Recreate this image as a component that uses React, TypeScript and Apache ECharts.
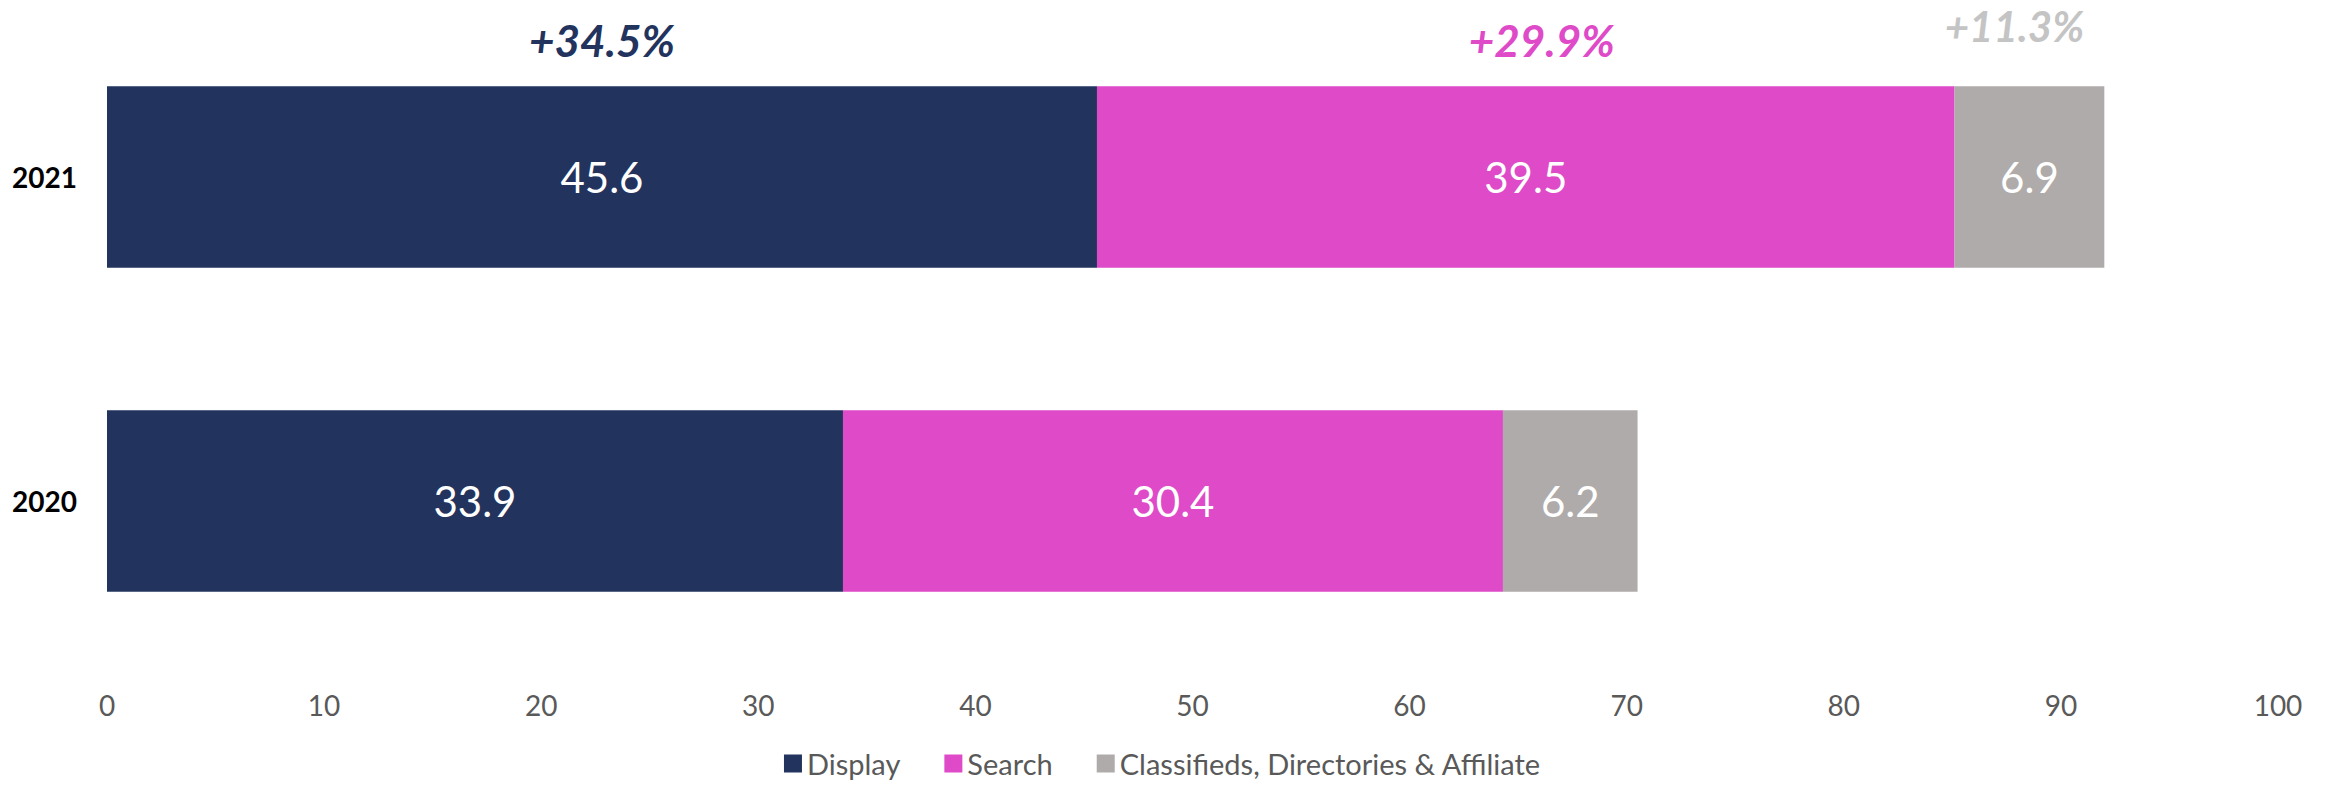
import React, { useEffect, useRef } from 'react';
import * as echarts from 'echarts';

const years = ['2020', '2021'];
const seriesNames = ['Display', 'Search', 'Classifieds, Directories & Affiliate'];
const display = [33.9, 45.6];
const search = [30.4, 39.5];
const classifieds = [6.2, 6.9];
const growthLabels = ['+34.5%', '+29.9%', '+11.3%'];
const barColors = ['#22335E', '#DE4AC7', '#AFABAA'];
const growthColors = ['#22335E', '#DE4AC7', '#C4C4C4'];
// annotation placement relative to the segment centre of the 2021 bar (px)
const growthLift = [137, 137, 151];
const growthShift = [0, 16, -15];

const FONT = 'Lato, Carlito, Calibri, "Open Sans", sans-serif';

export default function App() {
  const ref = useRef<HTMLDivElement>(null);
  useEffect(() => {
    if (!ref.current) return;
    const chart = echarts.init(ref.current, null, { renderer: 'svg' });
    const values = [display, search, classifieds];
    const option: any = {
      animation: false,
      backgroundColor: '#ffffff',
      textStyle: { fontFamily: FONT },
      grid: { left: 107, right: 47, top: 15, bottom: 122, containLabel: false },
      legend: {
        bottom: 2,
        left: 'center',
        itemWidth: 18,
        itemHeight: 18,
        itemGap: 44,
        icon: 'rect',
        textStyle: { color: '#595959', fontSize: 29, fontFamily: FONT },
        data: seriesNames,
      },
      xAxis: {
        type: 'value',
        min: 0,
        max: 100,
        interval: 10,
        axisLine: { show: false },
        axisTick: { show: false },
        splitLine: { show: false },
        axisLabel: { color: '#595959', fontSize: 28, margin: 28, fontFamily: FONT },
      },
      yAxis: {
        type: 'category',
        data: years,
        axisLine: { show: false },
        axisTick: { show: false },
        axisLabel: { color: '#000000', fontSize: 28, fontWeight: 'bold', margin: 30, fontFamily: FONT },
      },
      series: seriesNames.map((name, i) => ({
        name,
        type: 'bar',
        stack: 'total',
        barCategoryGap: '44%',
        data: values[i],
        itemStyle: { color: barColors[i] },
        label: {
          show: true,
          position: 'inside',
          color: '#ffffff',
          fontSize: 42,
          fontFamily: FONT,
          formatter: (p: any) => Number(p.value).toFixed(1),
        },
      })),
    };
    chart.setOption(option);

    // growth annotations above the 2021 bar segments
    const idx = years.indexOf('2021');
    let cum = 0;
    const texts: any[] = [];
    values.forEach((arr, i) => {
      const start = cum;
      cum += arr[idx];
      const mid = (start + cum) / 2;
      const pt = chart.convertToPixel({ gridIndex: 0 }, [mid, '2021']) as number[];
      texts.push({
        type: 'text',
        x: pt[0] + growthShift[i],
        y: pt[1] - growthLift[i],
        style: {
          text: growthLabels[i],
          fill: growthColors[i],
          font: `italic bold ${i === 2 ? 42 : 44}px ${FONT}`,
          align: 'center',
          verticalAlign: 'middle',
        },
      });
    });
    chart.setOption({ graphic: texts });

    return () => chart.dispose();
  }, []);
  return (
    <div
      ref={ref}
      style={{ position: 'fixed', left: 0, top: 0, width: 2325, height: 785, background: '#fff' }}
    />
  );
}
